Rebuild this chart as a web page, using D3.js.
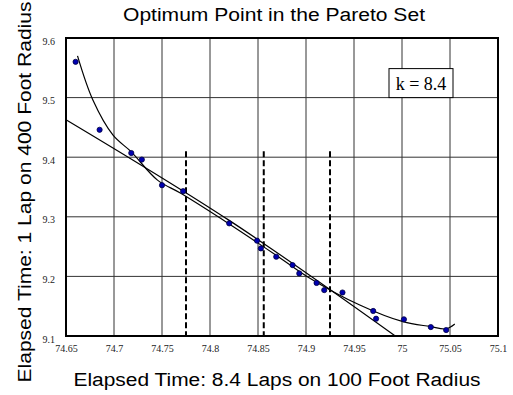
<!DOCTYPE html>
<html>
<head>
<meta charset="utf-8">
<script src="https://cdn.jsdelivr.net/npm/d3@7/dist/d3.min.js"></script>
<style>
  body { margin: 0; background: #fff; }
  svg { display: block; }
  .tick text { font-family: "Liberation Serif", "Times New Roman", serif; font-size: 10px; }
</style>
</head>
<body>
<svg id="chart" width="513" height="395"></svg>
<script>
// measured pareto points (x: 8.4 laps on 100 ft, y: 1 lap on 400 ft)
const lapsX = [74.660, 74.685, 74.718, 74.729, 74.750, 74.772, 74.820, 74.849, 74.853, 74.869,
               74.886, 74.893, 74.911, 74.919, 74.938, 74.970, 74.973, 75.002, 75.030, 75.046];
const lapsY = [9.560, 9.446, 9.407, 9.396, 9.353, 9.343, 9.289, 9.260, 9.247, 9.233,
               9.219, 9.205, 9.189, 9.177, 9.173, 9.142, 9.129, 9.128, 9.115, 9.110];

// trend lines
const lineTrendX = [74.650, 74.820, 74.993];
const lineTrendY = [9.463, 9.294, 9.100];
const polyTrendX = [74.662, 74.678, 74.699, 74.718, 74.745, 74.770, 74.820, 74.873, 74.901, 74.956, 75.001, 75.029, 75.046, 75.055];
const polyTrendY = [9.570, 9.496, 9.437, 9.409, 9.362, 9.339, 9.288, 9.231, 9.200, 9.152, 9.124, 9.116, 9.112, 9.120];

// dashed markers
const markerX = [74.775, 74.856, 74.925];
const markerTop = 9.41;

const xTicks = [74.65, 74.7, 74.75, 74.8, 74.85, 74.9, 74.95, 75, 75.05, 75.1];
const yTicks = [9.1, 9.2, 9.3, 9.4, 9.5, 9.6];

const svg = d3.select("#chart"),
  margin = {top: 38, right: 15, bottom: 59, left: 66},
  width = 513 - margin.left - margin.right,
  height = 395 - margin.top - margin.bottom,
  g = svg.append("g").attr("transform", "translate(" + margin.left + "," + margin.top + ")");

const x = d3.scaleLinear().domain([74.65, 75.1]).range([0, width]),
  y = d3.scaleLinear().domain([9.1, 9.6]).range([height, 0]);

// grid
g.append("g")
  .selectAll("line")
  .data(xTicks.slice(1, -1))
  .enter().append("line")
    .attr("x1", d => x(d)).attr("x2", d => x(d))
    .attr("y1", 0).attr("y2", height)
    .attr("stroke", "#333").attr("stroke-width", 1);

g.append("g")
  .selectAll("line")
  .data(yTicks.slice(1, -1))
  .enter().append("line")
    .attr("y1", d => y(d)).attr("y2", d => y(d))
    .attr("x1", 0).attr("x2", width)
    .attr("stroke", "#333").attr("stroke-width", 1);

// axes labels only
const xAxis = g.append("g")
  .attr("transform", "translate(0," + height + ")")
  .call(d3.axisBottom(x).tickValues(xTicks).tickSize(0).tickPadding(9).tickFormat(d3.format("")));
xAxis.select(".domain").remove();
xAxis.attr("font-family", null).attr("font-size", null);
xAxis.selectAll("text").attr("fill", "#222");

const yAxis = g.append("g")
  .call(d3.axisLeft(y).tickValues(yTicks).tickSize(0).tickPadding(11).tickFormat(d3.format(".1f")));
yAxis.select(".domain").remove();
yAxis.attr("font-family", null).attr("font-size", null);
yAxis.selectAll("text").attr("fill", "#222").attr("dy", "0.6em");

// dashed marker lines
g.append("g")
  .selectAll("line")
  .data(markerX)
  .enter().append("line")
    .attr("x1", d => x(d)).attr("x2", d => x(d))
    .attr("y1", y(markerTop)).attr("y2", height)
    .attr("stroke", "#000").attr("stroke-width", 2)
    .attr("stroke-dasharray", "6,3");

// trend lines
const trend = d3.line()
  .curve(d3.curveCatmullRom.alpha(0.5))
  .x(d => x(d[0]))
  .y(d => y(d[1]));

g.append("path")
  .attr("d", trend(d3.zip(lineTrendX, lineTrendY)))
  .attr("fill", "none").attr("stroke", "#000").attr("stroke-width", 1.2);

g.append("path")
  .attr("d", trend(d3.zip(polyTrendX, polyTrendY)))
  .attr("fill", "none").attr("stroke", "#000").attr("stroke-width", 1.2);

// points
g.append("g")
  .selectAll("circle")
  .data(d3.zip(lapsX, lapsY))
  .enter().append("circle")
    .attr("cx", d => x(d[0]))
    .attr("cy", d => y(d[1]))
    .attr("r", 2.6)
    .attr("fill", "#0000b0")
    .attr("stroke", "#000040")
    .attr("stroke-width", 0.8);

// frame
g.append("rect")
  .attr("width", width).attr("height", height)
  .attr("fill", "none").attr("stroke", "#000").attr("stroke-width", 2);

// k box
const kBox = g.append("g").attr("transform", "translate(" + (x(75.0) - 13) + "," + (y(9.5) - 29) + ")");
kBox.append("rect")
  .attr("width", 64).attr("height", 29)
  .attr("fill", "#fff").attr("stroke", "#000").attr("stroke-width", 1);
kBox.append("text")
  .attr("x", 32).attr("y", 21)
  .attr("text-anchor", "middle")
  .style("font", "18px 'Liberation Serif', serif")
  .text("k = 8.4");

// titles
const sans = "'Liberation Sans', Arial, sans-serif";
svg.append("text")
  .attr("x", 274).attr("y", 21)
  .attr("text-anchor", "middle")
  .attr("textLength", 302).attr("lengthAdjust", "spacingAndGlyphs")
  .style("font", "18px " + sans)
  .text("Optimum Point in the Pareto Set");

svg.append("text")
  .attr("x", 277).attr("y", 386)
  .attr("text-anchor", "middle")
  .attr("textLength", 407).attr("lengthAdjust", "spacingAndGlyphs")
  .style("font", "18px " + sans)
  .text("Elapsed Time: 8.4 Laps on 100 Foot Radius");

svg.append("text")
  .attr("transform", "translate(31,192) rotate(-90)")
  .attr("text-anchor", "middle")
  .attr("textLength", 381).attr("lengthAdjust", "spacingAndGlyphs")
  .style("font", "18px " + sans)
  .text("Elapsed Time: 1 Lap on 400 Foot Radius");
</script>
</body>
</html>
